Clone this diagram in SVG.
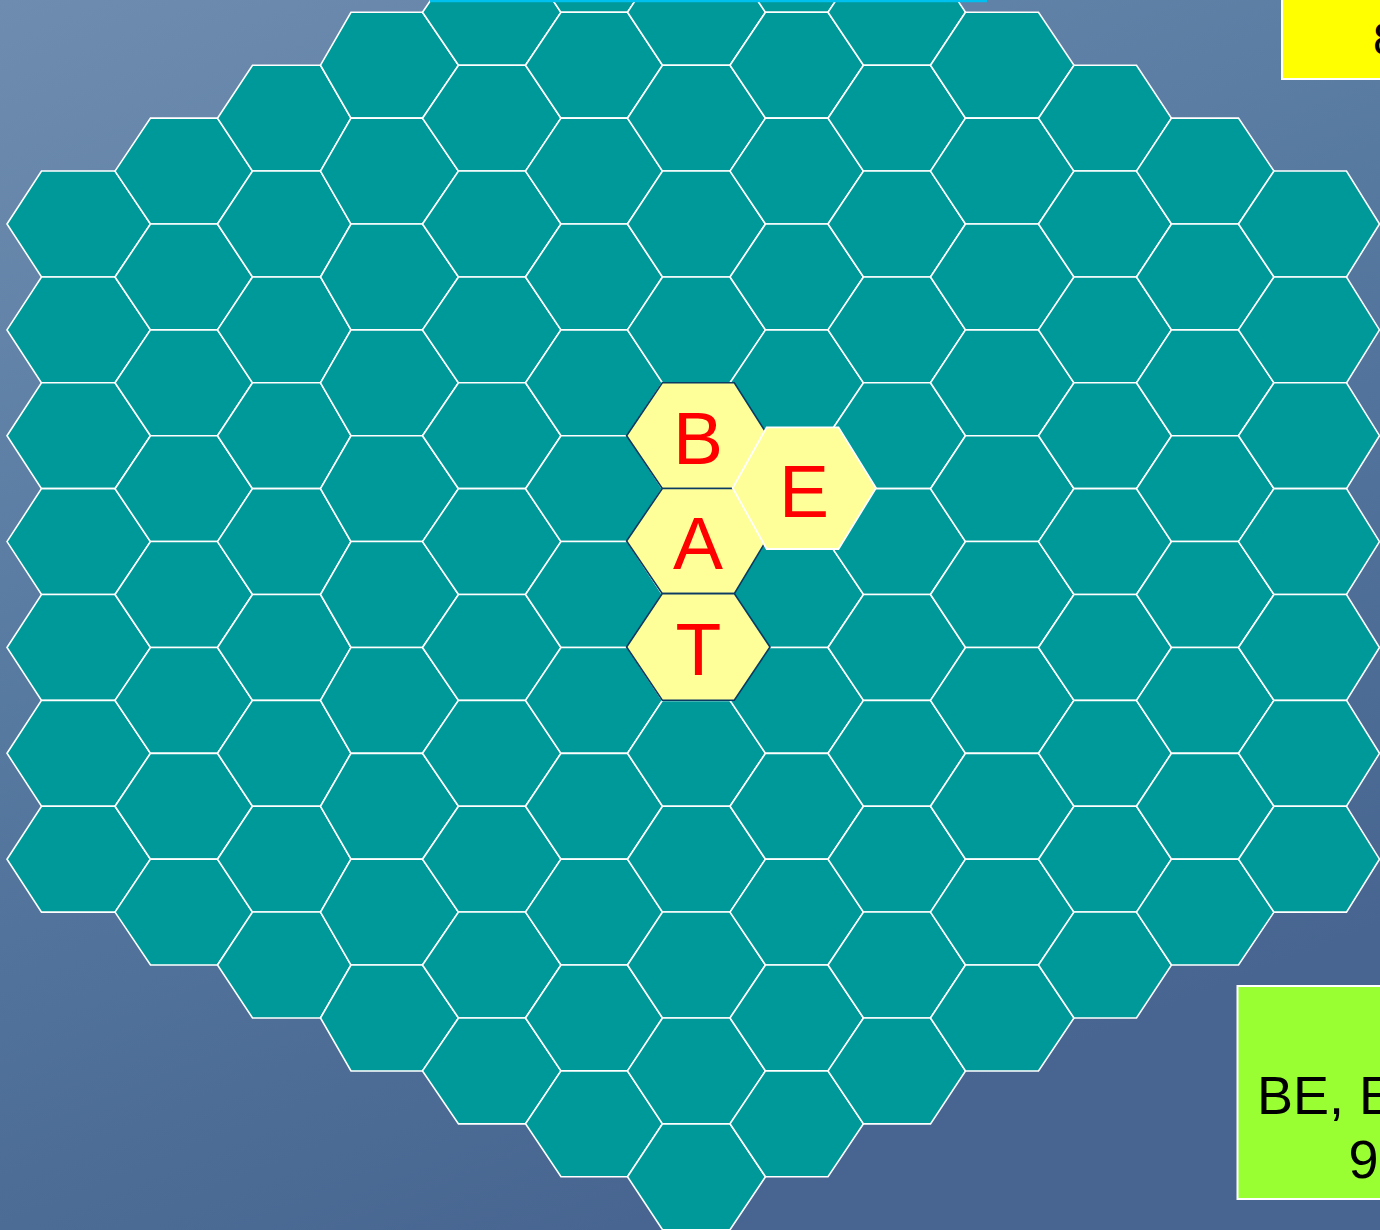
<svg xmlns="http://www.w3.org/2000/svg" xmlns:xlink="http://www.w3.org/1999/xlink" width="1380" height="1230" viewBox="0 0 1380 1230">
  <defs>
    <linearGradient id="bg" x1="0" y1="0" x2="0.45" y2="1">
      <stop offset="0" stop-color="#6e8caf"/>
      <stop offset="0.5" stop-color="#5679a0"/>
      <stop offset="1" stop-color="#476590"/>
    </linearGradient>
    <style>
      .cell { fill: #009999; stroke: #ffffff; stroke-width: 1.6; stroke-linejoin: miter; }
      .tile { fill: #ffff99; stroke: #0b3a63; stroke-width: 1.6; }
      .tile-e { fill: #ffff99; stroke: #ffffff; stroke-width: 1.8; }
      .letter { font-family: "Liberation Sans", Arial, sans-serif; font-size: 75px; fill: #ff0000; text-anchor: middle; }
      .label { font-family: "Liberation Sans", Arial, sans-serif; fill: #000000; }
    </style>
    <polygon id="h0" class="cell" points="7,0 41.5,-52.93 115,-52.93 150.5,0 115,52.93 41.5,52.93"/>
    <polygon id="h1" class="cell" points="115,0 150.5,-52.93 217.5,-52.93 252.5,0 217.5,52.93 150.5,52.93"/>
    <polygon id="h2" class="cell" points="217.5,0 252.5,-52.93 320.5,-52.93 351,0 320.5,52.93 252.5,52.93"/>
    <polygon id="h3" class="cell" points="320.5,0 351,-52.93 422.5,-52.93 458.5,0 422.5,52.93 351,52.93"/>
    <polygon id="h4" class="cell" points="422.5,0 458.5,-52.93 525.5,-52.93 561,0 525.5,52.93 458.5,52.93"/>
    <polygon id="h5" class="cell" points="525.5,0 561,-52.93 627.5,-52.93 662.5,0 627.5,52.93 561,52.93"/>
    <polygon id="h6" class="cell" points="627.5,0 662.5,-52.93 730,-52.93 765.5,0 730,52.93 662.5,52.93"/>
    <polygon id="h7" class="cell" points="730,0 765.5,-52.93 828,-52.93 863.5,0 828,52.93 765.5,52.93"/>
    <polygon id="h8" class="cell" points="828,0 863.5,-52.93 930.5,-52.93 965.5,0 930.5,52.93 863.5,52.93"/>
    <polygon id="h9" class="cell" points="930.5,0 965.5,-52.93 1038.5,-52.93 1074,0 1038.5,52.93 965.5,52.93"/>
    <polygon id="h10" class="cell" points="1038.5,0 1074,-52.93 1136.5,-52.93 1171.5,0 1136.5,52.93 1074,52.93"/>
    <polygon id="h11" class="cell" points="1136.5,0 1171.5,-52.93 1238.5,-52.93 1274,0 1238.5,52.93 1171.5,52.93"/>
    <polygon id="h12" class="cell" points="1238.5,0 1274,-52.93 1346.5,-52.93 1379.5,0 1346.5,52.93 1274,52.93"/>
  </defs>

  <rect id="background" x="0" y="0" width="1380" height="1230" fill="url(#bg)"/>

  <g id="grid">
    <g id="col0">
      <use href="#h0" y="224"/><use href="#h0" y="329.9"/><use href="#h0" y="435.7"/><use href="#h0" y="541.6"/><use href="#h0" y="647.5"/><use href="#h0" y="753.3"/><use href="#h0" y="859.2"/>
    </g>
    <g id="col1">
      <use href="#h1" y="171.1"/><use href="#h1" y="277"/><use href="#h1" y="382.8"/><use href="#h1" y="488.7"/><use href="#h1" y="594.5"/><use href="#h1" y="700.4"/><use href="#h1" y="806.3"/><use href="#h1" y="912.1"/>
    </g>
    <g id="col2">
      <use href="#h2" y="118.2"/><use href="#h2" y="224"/><use href="#h2" y="329.9"/><use href="#h2" y="435.7"/><use href="#h2" y="541.6"/><use href="#h2" y="647.5"/><use href="#h2" y="753.3"/><use href="#h2" y="859.2"/><use href="#h2" y="965"/>
    </g>
    <g id="col3">
      <use href="#h3" y="65.2"/><use href="#h3" y="171.1"/><use href="#h3" y="277"/><use href="#h3" y="382.8"/><use href="#h3" y="488.7"/><use href="#h3" y="594.5"/><use href="#h3" y="700.4"/><use href="#h3" y="806.3"/><use href="#h3" y="912.1"/><use href="#h3" y="1018"/>
    </g>
    <g id="col4">
      <use href="#h4" y="12.3"/><use href="#h4" y="118.2"/><use href="#h4" y="224"/><use href="#h4" y="329.9"/><use href="#h4" y="435.7"/><use href="#h4" y="541.6"/><use href="#h4" y="647.5"/><use href="#h4" y="753.3"/><use href="#h4" y="859.2"/><use href="#h4" y="965"/><use href="#h4" y="1070.9"/>
    </g>
    <g id="col5">
      <use href="#h5" y="-40.6"/><use href="#h5" y="65.2"/><use href="#h5" y="171.1"/><use href="#h5" y="277"/><use href="#h5" y="382.8"/><use href="#h5" y="488.7"/><use href="#h5" y="594.5"/><use href="#h5" y="700.4"/><use href="#h5" y="806.3"/><use href="#h5" y="912.1"/><use href="#h5" y="1018"/><use href="#h5" y="1123.8"/>
    </g>
    <g id="col6">
      <use href="#h6" y="12.3"/><use href="#h6" y="118.2"/><use href="#h6" y="224"/><use href="#h6" y="329.9"/><use href="#h6" y="435.7"/><use href="#h6" y="541.6"/><use href="#h6" y="647.5"/><use href="#h6" y="753.3"/><use href="#h6" y="859.2"/><use href="#h6" y="965"/><use href="#h6" y="1070.9"/><use href="#h6" y="1176.8"/>
    </g>
    <g id="col7">
      <use href="#h7" y="-40.6"/><use href="#h7" y="65.2"/><use href="#h7" y="171.1"/><use href="#h7" y="277"/><use href="#h7" y="382.8"/><use href="#h7" y="488.7"/><use href="#h7" y="594.5"/><use href="#h7" y="700.4"/><use href="#h7" y="806.3"/><use href="#h7" y="912.1"/><use href="#h7" y="1018"/><use href="#h7" y="1123.8"/>
    </g>
    <g id="col8">
      <use href="#h8" y="12.3"/><use href="#h8" y="118.2"/><use href="#h8" y="224"/><use href="#h8" y="329.9"/><use href="#h8" y="435.7"/><use href="#h8" y="541.6"/><use href="#h8" y="647.5"/><use href="#h8" y="753.3"/><use href="#h8" y="859.2"/><use href="#h8" y="965"/><use href="#h8" y="1070.9"/>
    </g>
    <g id="col9">
      <use href="#h9" y="65.2"/><use href="#h9" y="171.1"/><use href="#h9" y="277"/><use href="#h9" y="382.8"/><use href="#h9" y="488.7"/><use href="#h9" y="594.5"/><use href="#h9" y="700.4"/><use href="#h9" y="806.3"/><use href="#h9" y="912.1"/><use href="#h9" y="1018"/>
    </g>
    <g id="col10">
      <use href="#h10" y="118.2"/><use href="#h10" y="224"/><use href="#h10" y="329.9"/><use href="#h10" y="435.7"/><use href="#h10" y="541.6"/><use href="#h10" y="647.5"/><use href="#h10" y="753.3"/><use href="#h10" y="859.2"/><use href="#h10" y="965"/>
    </g>
    <g id="col11">
      <use href="#h11" y="171.1"/><use href="#h11" y="277"/><use href="#h11" y="382.8"/><use href="#h11" y="488.7"/><use href="#h11" y="594.5"/><use href="#h11" y="700.4"/><use href="#h11" y="806.3"/><use href="#h11" y="912.1"/>
    </g>
    <g id="col12">
      <use href="#h12" y="224"/><use href="#h12" y="329.9"/><use href="#h12" y="435.7"/><use href="#h12" y="541.6"/><use href="#h12" y="647.5"/><use href="#h12" y="753.3"/><use href="#h12" y="859.2"/>
    </g>
  </g>

  <g id="connectors"/>

  <g id="tile-B">
    <polygon class="tile" points="626.6,435.7 662.3,382.7 734.3,382.7 768,435.7 734.3,488.5 662.3,488.5"/>
    <text class="letter" x="698" y="464.3">B</text>
  </g>
  <g id="tile-A">
    <polygon class="tile" points="626.6,541 662.3,488.5 734.3,488.5 766,541 734.3,593.6 662.3,593.6"/>
    <text class="letter" x="698" y="569.3">A</text>
  </g>
  <g id="tile-T">
    <polygon class="tile" points="626.6,647 662.3,593.6 734.3,593.6 770,647 734.3,700.2 662.3,700.2"/>
    <text class="letter" x="698.3" y="675">T</text>
  </g>
  <g id="tile-E">
    <polygon class="tile-e" points="732.7,488 766.7,427.3 838.5,427.3 876,488 838.5,549 766.7,549"/>
    <text class="letter" x="804" y="516.7">E</text>
  </g>

  <line id="top-frame-edge" x1="430" y1="1" x2="987" y2="1" stroke="#00c0f0" stroke-width="2.4"/>

  <g id="score-box-yellow">
    <rect x="1282" y="-4" width="110" height="83" fill="#ffff00" stroke="#ffffff" stroke-width="2"/>
    <text class="label" x="1373" y="55" font-size="46">8</text>
  </g>

  <g id="words-box-green">
    <rect x="1237.5" y="986" width="160" height="213" fill="#99ff33" stroke="#ffffff" stroke-width="2"/>
    <text class="label" x="1257" y="1114" font-size="54">BE, E</text>
    <text class="label" x="1348.5" y="1177.5" font-size="54">9</text>
  </g>
</svg>
